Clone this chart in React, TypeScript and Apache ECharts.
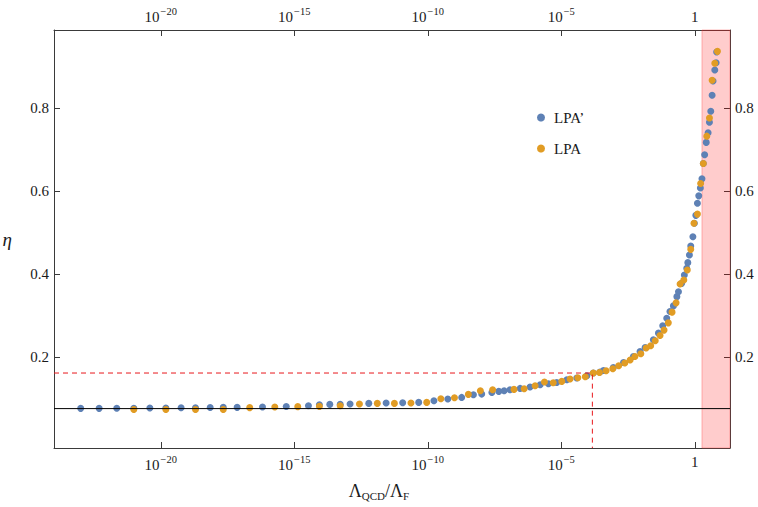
import React, { useEffect, useRef } from "react";
import * as echarts from "echarts";

// log10(Λ_QCD/Λ_F) and η
const lpaPrimeLogX = [
  -23.0, -22.31, -21.65, -21.01, -20.41, -19.81, -19.24, -18.7, -18.15, -17.66, -17.14,
  -16.19, -15.3, -14.47, -14.06, -13.67, -13.28, -12.91, -12.21, -11.56, -10.94, -10.34,
  -9.77, -9.25, -8.73, -8.29, -7.98, -7.6, -7.34, -7.14, -6.92, -6.54, -6.17, -5.79,
  -5.48, -5.17, -4.79, -4.42, -4.04, -3.8, -3.55, -3.42, -3.05, -2.67, -2.3, -2.05,
  -1.86, -1.55, -1.36, -1.2, -1.05, -0.93, -0.8, -0.67, -0.61, -0.49, -0.39, -0.3,
  -0.26, -0.2, -0.15, -0.07, -0.015, 0.04, 0.1, 0.15, 0.21, 0.27, 0.32, 0.37, 0.43,
  0.5, 0.55, 0.6, 0.65, 0.685, 0.75, 0.8, 0.82,
];
const lpaPrimeEta = [
  0.0756, 0.0756, 0.076, 0.076, 0.0765, 0.0765, 0.077, 0.077, 0.0775, 0.078, 0.078,
  0.079, 0.08, 0.082, 0.0845, 0.0852, 0.0852, 0.0862, 0.0876, 0.0886, 0.0893, 0.09,
  0.094, 0.098, 0.102, 0.1085, 0.11, 0.114, 0.1165, 0.118, 0.1206, 0.1237, 0.127, 0.1326,
  0.135, 0.138, 0.1446, 0.1487, 0.1543, 0.1608, 0.1632, 0.167, 0.1742, 0.1863, 0.2007, 0.2128,
  0.2224, 0.241, 0.257, 0.2746, 0.293, 0.309, 0.3227, 0.345, 0.357, 0.377, 0.397, 0.4135,
  0.427, 0.4455, 0.467, 0.4895, 0.522, 0.541, 0.57, 0.588, 0.607, 0.629, 0.666, 0.687, 0.717,
  0.74, 0.7656, 0.792, 0.8306, 0.865, 0.8915, 0.909, 0.935,
];
const lpaLogX = [
  -21.01, -19.81, -18.7, -17.66, -16.67, -15.73, -14.87, -14.06, -13.28, -12.56, -11.89,
  -11.25, -10.63, -10.04, -9.51, -9.0, -8.48, -8.03, -7.57, -6.77, -6.39, -5.98, -5.63,
  -5.3, -4.98, -4.67, -4.38, -4.1, -3.8, -3.57, -3.32, -3.07, -2.85, -2.62, -2.42, -2.24,
  -2.02, -1.82, -1.65, -1.48, -1.3, -1.15, -0.99, -0.85, -0.7, -0.55, -0.41, -0.28, -0.15,
  -0.03, 0.1, 0.22, 0.32, 0.45, 0.55, 0.65, 0.75, 0.85,
];
const lpaEta = [
  0.073, 0.073, 0.073, 0.073, 0.0773, 0.079, 0.0797, 0.0804, 0.082, 0.0862, 0.0876,
  0.0876, 0.0886, 0.09, 0.0989, 0.1013, 0.1093, 0.1182, 0.1206, 0.1213, 0.123, 0.13, 0.139,
  0.1374, 0.1406, 0.1463, 0.1495, 0.1519, 0.1608, 0.1622, 0.1663, 0.1711, 0.1783, 0.1848, 0.192, 0.2007,
  0.2072, 0.221, 0.2265, 0.2385, 0.2513, 0.2643, 0.2818, 0.3076, 0.33, 0.3757, 0.3853, 0.4094, 0.459,
  0.522, 0.544, 0.618, 0.666, 0.732, 0.776, 0.867, 0.908, 0.9365,
];
const xTickExponents = [-20, -15, -10, -5, 0];
const yTicks = [0.2, 0.4, 0.6, 0.8];
const xRange = [-24, 1.32];
const yRange = [-0.02, 0.988];
const refLineEta = 0.075;
const markEta = 0.1608;
const markLogX = -3.835;
const bandLogX = [0.27, 1.32];

const FONT = "'Liberation Serif', 'DejaVu Serif', serif";
const INK = "#1a1a1a";
const AXIS = "#3a3a3a";

export default function App() {
  const ref = useRef<HTMLDivElement>(null);
  useEffect(() => {
    const chart = echarts.init(ref.current!, null, { renderer: "svg" });
    const xLabelFmt = (v: number) => (v === 0 ? "{n|1}" : `{n|10}{s|−${-v}}`);
    const xRich = {
      n: { fontSize: 15, fontFamily: FONT, color: INK, verticalAlign: "bottom" },
      s: { fontSize: 10.5, fontFamily: FONT, color: INK, verticalAlign: "top", padding: [0, 0, 7, 1] },
    };
    const xAxisBase = {
      type: "value",
      min: xRange[0],
      max: xRange[1],
      splitLine: { show: false },
      axisLine: { show: true, onZero: false, lineStyle: { color: AXIS, width: 1 } },
      axisTick: { show: true, inside: true, length: 6, customValues: xTickExponents, lineStyle: { color: AXIS } },
      axisLabel: { customValues: xTickExponents, formatter: xLabelFmt, rich: xRich, margin: 6 },
    };
    const yAxisBase = {
      type: "value",
      min: yRange[0],
      max: yRange[1],
      splitLine: { show: false },
      axisLine: { show: true, onZero: false, lineStyle: { color: AXIS, width: 1 } },
      axisTick: { show: true, inside: true, length: 6, customValues: yTicks, lineStyle: { color: AXIS } },
      axisLabel: {
        customValues: yTicks,
        formatter: (v: number) => v.toFixed(1),
        fontSize: 15,
        fontFamily: FONT,
        color: INK,
        margin: 5,
      },
    };
    chart.setOption({
      animation: false,
      grid: { left: 54, right: 28, top: 30, bottom: 59, containLabel: false, outerBoundsMode: "none" },
      legend: {
        orient: "vertical",
        left: 532,
        top: 105,
        itemWidth: 8,
        itemHeight: 8,
        itemGap: 16,
        icon: "circle",
        data: ["LPA’", "LPA"],
        textStyle: { fontSize: 15, fontFamily: FONT, color: INK, padding: [0, 0, 0, 4] },
      },
      graphic: [
        {
          type: "text",
          left: "center",
          top: 482,
          style: {
            text: "{a|Λ}{b|QCD}{a|/Λ}{b|F}",
            rich: {
              a: { fontSize: 18, fontFamily: FONT, fill: INK, verticalAlign: "top" },
              b: { fontSize: 11, fontFamily: FONT, fill: INK, verticalAlign: "bottom", padding: [8, 0, 0, 0] },
            },
          },
        },
      ],
      xAxis: [
        { ...xAxisBase, position: "bottom" },
        { ...xAxisBase, position: "top" },
      ],
      yAxis: [
        {
          ...yAxisBase,
          position: "left",
          name: "η",
          nameLocation: "middle",
          nameRotate: 0,
          nameGap: 42,
          nameTextStyle: { fontSize: 19, fontStyle: "italic", fontFamily: FONT, color: INK },
        },
        { ...yAxisBase, position: "right" },
      ],
      series: [
        {
          type: "line",
          name: "band",
          data: [],
          markArea: {
            silent: true,
            itemStyle: { color: "rgba(255,0,0,0.2)", borderColor: "rgba(255,60,60,0.35)", borderWidth: 1 },
            data: [[{ xAxis: bandLogX[0], yAxis: yRange[0] }, { xAxis: bandLogX[1], yAxis: yRange[1] }]],
          },
        },
        {
          type: "line",
          name: "ref",
          silent: true,
          symbol: "none",
          lineStyle: { color: "#000", width: 1 },
          data: [
            [xRange[0], refLineEta],
            [xRange[1], refLineEta],
          ],
        },
        {
          type: "line",
          name: "mark",
          silent: true,
          symbol: "none",
          lineStyle: { color: "#e8181c", width: 1, type: [5, 4] },
          data: [
            [xRange[0], markEta],
            [markLogX, markEta],
            [markLogX, yRange[0]],
          ],
        },
        {
          type: "scatter",
          name: "LPA’",
          symbolSize: 7,
          itemStyle: { color: "#5e81b5", opacity: 1 },
          data: lpaPrimeLogX.map((x, i) => [x, lpaPrimeEta[i]]),
        },
        {
          type: "scatter",
          name: "LPA",
          symbolSize: 7,
          itemStyle: { color: "#e19c24", opacity: 1 },
          data: lpaLogX.map((x, i) => [x, lpaEta[i]]),
        },
      ],
    });
    return () => chart.dispose();
  }, []);
  return <div ref={ref} style={{ width: 758, height: 507, position: "absolute", left: 0, top: 0 }} />;
}
